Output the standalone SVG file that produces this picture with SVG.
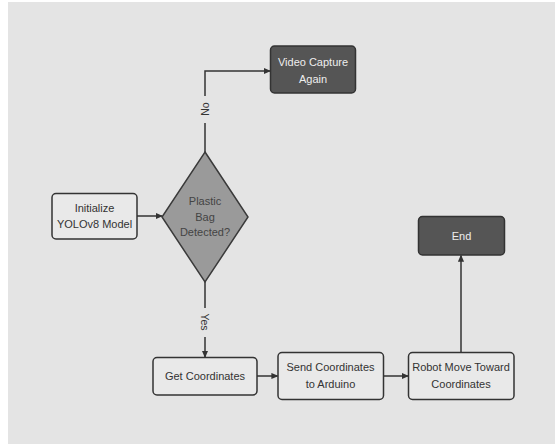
<svg xmlns="http://www.w3.org/2000/svg" width="555" height="444" viewBox="0 0 555 444">
<defs>
<style>
.bg{fill:#e4e4e4}
.light rect{fill:#e9e9e9;stroke:#333;stroke-width:1.5}
.dark rect{fill:#555;stroke:#333;stroke-width:1.5}
text{font-family:"Liberation Sans",Arial,sans-serif;font-size:11px;text-anchor:middle;dominant-baseline:central}
.light text{fill:#333}
.dark text{fill:#eee}
.dec text{fill:#444}
.dec polygon{fill:#9a9a9a;stroke:#3a3a3a;stroke-width:1.5}
.conn path{fill:none;stroke:#333;stroke-width:1.5}
.lbl{fill:#333;font-size:10.5px}
</style>
<marker id="ah" viewBox="0 0 8 8" refX="7" refY="4" markerWidth="7" markerHeight="7" markerUnits="userSpaceOnUse" orient="auto">
<path d="M0,0.5 L8,4 L0,7.5 z" fill="#333"/>
</marker>
</defs>
<rect class="bg" x="8" y="2" width="547" height="442"/>
<g class="conn">
<path d="M205,152 V123 M205,96 V71 H270" marker-end="url(#ah)"/>
<path d="M137,216 H162" marker-end="url(#ah)"/>
<path d="M205,282 V308 M205,337 V357" marker-end="url(#ah)"/>
<path d="M257,376 H277.5" marker-end="url(#ah)"/>
<path d="M383.5,376 H408" marker-end="url(#ah)"/>
<path d="M461,352 V255.5" marker-end="url(#ah)"/>
<text class="lbl" transform="translate(205,109) rotate(-90)">No</text>
<text class="lbl" transform="translate(205,322) rotate(90)">Yes</text>
</g>
<g id="init" class="light">
<rect x="52" y="193.5" width="85" height="45.5" rx="4"/>
<text x="94.5" y="208">Initialize</text>
<text x="94.5" y="224">YOLOv8 Model</text>
</g>
<g id="decision" class="dec">
<polygon points="205,152 248,217 205,282 162,217"/>
<text x="205" y="201">Plastic</text>
<text x="205" y="216.5">Bag</text>
<text x="205" y="232">Detected?</text>
</g>
<g id="video" class="dark">
<rect x="270.5" y="46" width="85" height="47" rx="4"/>
<text x="313" y="62">Video Capture</text>
<text x="313" y="79">Again</text>
</g>
<g id="getcoord" class="light">
<rect x="153" y="357.5" width="104" height="37.5" rx="4"/>
<text x="205" y="376">Get Coordinates</text>
</g>
<g id="send" class="light">
<rect x="278" y="352.5" width="105.5" height="47" rx="4"/>
<text x="330.5" y="366.5">Send Coordinates</text>
<text x="330.5" y="384">to Arduino</text>
</g>
<g id="robot" class="light">
<rect x="408.5" y="352.5" width="105.5" height="47" rx="4"/>
<text x="461" y="366.5">Robot Move Toward</text>
<text x="461" y="384">Coordinates</text>
</g>
<g id="end" class="dark">
<rect x="418.5" y="216.5" width="86" height="38.5" rx="4"/>
<text x="461.5" y="235.5">End</text>
</g>
</svg>
